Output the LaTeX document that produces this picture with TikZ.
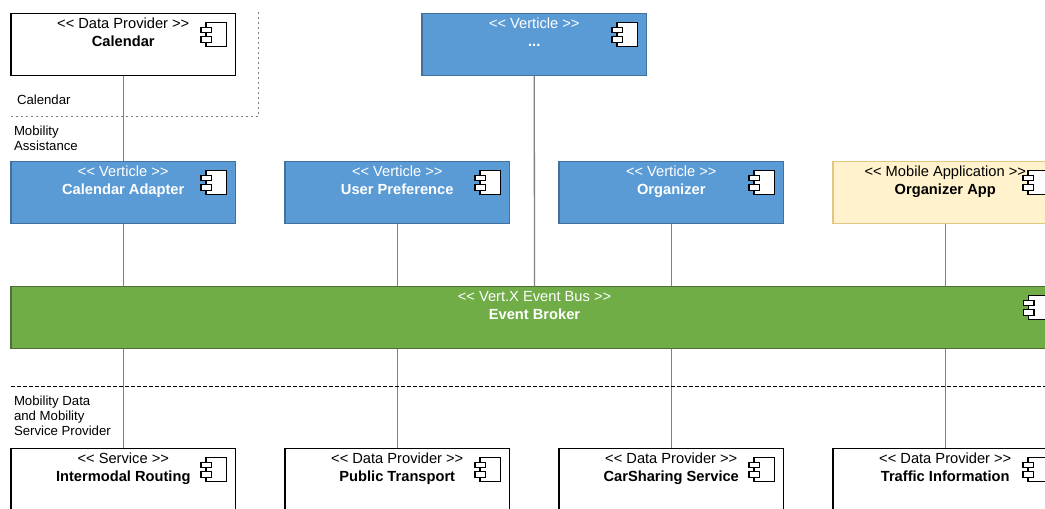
\documentclass[tikz,border=0pt]{standalone}
\usepackage{fontspec}
\setmainfont{Liberation Sans}
\usetikzlibrary{positioning,calc}
\def\px{0.75pt}
\newcommand\stereo[1]{<{}< #1 >{}>}
\definecolor{boxblue}{HTML}{5A9BD5}
\definecolor{boxborder}{HTML}{41719C}
\definecolor{appfill}{HTML}{FFF2CC}
\definecolor{appborder}{HTML}{E0C882}
\definecolor{busfill}{HTML}{70AD47}
\definecolor{busborder}{HTML}{4F6F3A}
\definecolor{linegray}{HTML}{808080}
\tikzset{
  comp/.style={rectangle,draw=black,fill=white,text=black,line width=1.2*\px,
    minimum width=224.5*\px,minimum height=62.5*\px,inner sep=0pt,outer sep=0pt,align=center,
    text height=24.75pt,text depth=22.1pt,font=\fontsize{11}{13.5}\selectfont},
  verticle/.style={draw=boxborder,fill=boxblue,text=white},
  mobile/.style={draw=appborder,fill=appfill},
  busbar/.style={draw=busborder,fill=busfill,text=white,minimum width=1047*\px},
  conn/.style={draw=linegray,line width=1.3*\px},
  iconpart/.style={draw=black,fill=white,line width=1.1*\px},
  zone/.style={align=left,inner sep=0pt,outer sep=0pt,font=\fontsize{9.9}{11.25}\selectfont}
}
\begin{document}
\begin{tikzpicture}
\useasboundingbox (0,0) rectangle (1045*\px,-508*\px);
\clip (0,0) rectangle (1045*\px,-508*\px);

\node[comp] (calendar) at (123.25*\px,-44.5*\px) {\stereo{Data Provider}\\\textbf{Calendar}};
\node[comp,verticle,node distance=85.5*\px,below = of calendar] (adapter) {\stereo{Verticle}\\\textbf{Calendar Adapter}};
\node[comp,verticle,node distance=49.5*\px,right = of adapter] (preference) {\stereo{Verticle}\\\textbf{User Preference}};
\node[comp,verticle,node distance=49.5*\px,right = of preference] (organizer) {\stereo{Verticle}\\\textbf{Organizer}};
\node[comp,mobile,node distance=49.5*\px,right = of organizer] (app) {\stereo{Mobile Application}\\\textbf{Organizer App}};
\node[comp,busbar,node distance=62.5*\px,below = of adapter.south west,anchor=north west] (bus) {\stereo{Vert.X Event Bus}\\\textbf{Event Broker}};
\node[comp,verticle,node distance=85.5*\px,above = of organizer.north west,anchor=south west,xshift=-137*\px] (more) {\stereo{Verticle}\\\textbf{...}};

\node[comp,node distance=99.5*\px,below = of bus.south west,anchor=north west] (routing) {\stereo{Service}\\\textbf{Intermodal Routing}};
\node[comp,node distance=49.5*\px,right = of routing] (transport) {\stereo{Data Provider}\\\textbf{Public Transport}};
\node[comp,node distance=49.5*\px,right = of transport] (sharing) {\stereo{Data Provider}\\\textbf{CarSharing Service}};
\node[comp,node distance=49.5*\px,right = of sharing] (traffic) {\stereo{Data Provider}\\\textbf{Traffic Information}};

% component icons, same place in every box
\foreach \n in {calendar,more,adapter,preference,organizer,app,bus,routing,transport,sharing,traffic} {
  \draw[iconpart] ($(\n.north east)+(-29.5*\px,-9*\px)$) rectangle ($(\n.north east)+(-9*\px,-33.5*\px)$);
  \draw[iconpart] ($(\n.north east)+(-34.5*\px,-14*\px)$) rectangle ($(\n.north east)+(-24*\px,-19.5*\px)$);
  \draw[iconpart] ($(\n.north east)+(-34.5*\px,-23.5*\px)$) rectangle ($(\n.north east)+(-24*\px,-29*\px)$);
}

\draw[conn] (calendar.south) -- (adapter.north);
\draw[conn] (more.south) -- (bus.north);
\draw[conn] (adapter.south) -- (adapter.south |- bus.north);
\draw[conn] (preference.south) -- (preference.south |- bus.north);
\draw[conn] (organizer.south) -- (organizer.south |- bus.north);
\draw[conn] (app.south) -- (app.south |- bus.north);
\draw[conn] (routing.north |- bus.south) -- (routing.north);
\draw[conn] (transport.north |- bus.south) -- (transport.north);
\draw[conn] (sharing.north |- bus.south) -- (sharing.north);
\draw[conn] (traffic.north |- bus.south) -- (traffic.north);

\coordinate (dotstart) at (11*\px,-116.5*\px);
\coordinate (dotcorner) at (258.5*\px,-116.5*\px);
\coordinate (dotend) at (258.5*\px,-11*\px);
\coordinate (dashstart) at (11*\px,-386.5*\px);
\coordinate (dashend) at (1045*\px,-386.5*\px);
\draw[linegray,line width=1*\px,dash pattern=on 2*\px off 3*\px] (dotstart) -- (dotcorner) -- (dotend);
\draw[black,line width=1*\px,dash pattern=on 4*\px off 2*\px] (dashstart) -- (dashend);

\node[zone,anchor=south west] (zonecalendar) at ($(dotstart)+(6*\px,12*\px)$) {Calendar};
\node[zone,anchor=north west] (zoneassist) at ($(dotstart)+(3*\px,-9*\px)$) {Mobility\\Assistance};
\node[zone,anchor=north west] (zonedata) at ($(dashstart)+(3*\px,-9*\px)$) {Mobility Data\\and Mobility\\Service Provider};

\end{tikzpicture}
\end{document}
